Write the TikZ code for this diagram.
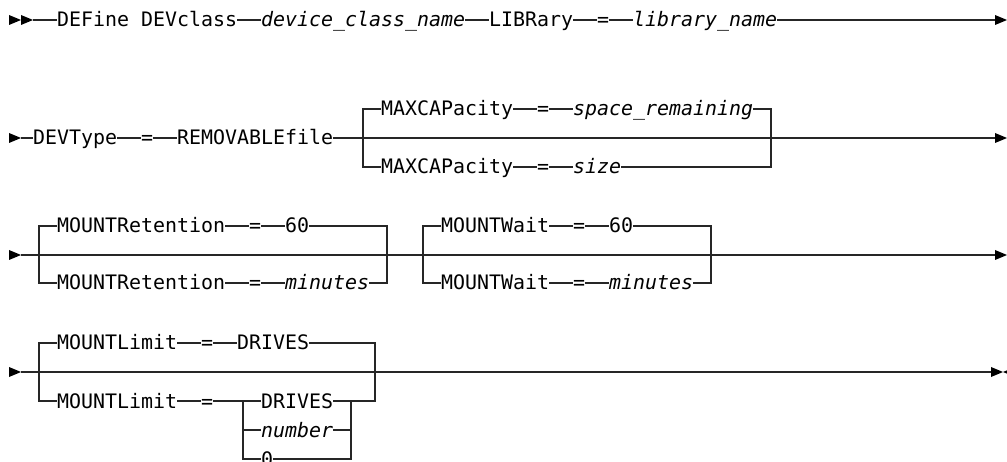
\documentclass[tikz,border=0pt]{standalone}
\usepackage{fontspec}
\newfontfamily\diagfont{DejaVu Sans Mono}
\begin{document}
\begin{tikzpicture}[x=1pt,y=-1pt,
  tok/.style={font=\diagfont\fontsize{19.93}{24}\selectfont, inner sep=0pt, text height=14pt, text depth=0pt, anchor=west},
  var/.style={tok, font=\diagfont\fontsize{19.93}{24}\selectfont\itshape},
  rail/.style={line width=1.2pt, draw=black!85},
  ptr/.pic={\fill[black] (0,-5) -- (12,0) -- (0,5) -- cycle;},
  ptrl/.pic={\fill[black] (12,-5) -- (0,0) -- (12,5) -- cycle;}]
\useasboundingbox (0,0) rectangle (1007,462);
\clip (0,0) rectangle (1007,462);
% ---------- row 1 ----------
\pic at (9,20) {ptr};
\pic at (21,20) {ptr};
\coordinate (r1s) at (33,20);
\node[tok] (r1a) at (57,20) {DEFine DEVclass};
\node[var] (r1b) at (261,20) {device\_class\_name};
\node[tok] (r1c) at (489,20) {LIBRary};
\node[tok] (r1d) at (597,20) {=};
\node[var] (r1e) at (633,20) {library\_name};
\coordinate (r1end) at (996,20);
\draw[rail] (r1s) -- (r1a) -- (r1b) -- (r1c) -- (r1d) -- (r1e) -- (r1end);
\pic at (995,20) {ptr};
% ---------- row 2 ----------
\pic at (9,138) {ptr};
\coordinate (r2s) at (21,138);
\node[tok] (r2a) at (33,138) {DEVType};
\node[tok] (r2b) at (141,138) {=};
\node[tok] (r2c) at (177,138) {REMOVABLEfile};
\coordinate (g1l) at (363,138);
\coordinate (g1r) at (771,138);
\node[tok] (g1a) at (381,109) {MAXCAPacity};
\node[tok] (g1b) at (537,109) {=};
\node[var] (g1c) at (573,109) {space\_remaining};
\node[tok] (g1d) at (381,167) {MAXCAPacity};
\node[tok] (g1e) at (537,167) {=};
\node[var] (g1f) at (573,167) {size};
\coordinate (r2end) at (996,138);
\draw[rail] (r2s) -- (r2a) -- (r2b) -- (r2c) -- (r2end);
\draw[rail] (g1a) -- (g1b) -- (g1c);
\draw[rail] (g1d) -- (g1e) -- (g1f);
\draw[rail] (g1a.west) -- (g1a.west -| g1l) -- (g1d.west -| g1l) -- (g1d.west);
\draw[rail] (g1c.east) -- (g1c.east -| g1r) -- (g1f.east -| g1r) -- (g1f.east);
\pic at (995,138) {ptr};
% ---------- row 3 ----------
\pic at (9,255) {ptr};
\coordinate (r3s) at (21,255);
\coordinate (g2l) at (39,255);
\coordinate (g2r) at (387,255);
\coordinate (g3l) at (423,255);
\coordinate (g3r) at (711,255);
\coordinate (r3end) at (996,255);
\draw[rail] (r3s) -- (r3end);
\node[tok] (g2a) at (57,226) {MOUNTRetention};
\node[tok] (g2b) at (249,226) {=};
\node[tok] (g2c) at (285,226) {60};
\node[tok] (g2d) at (57,283) {MOUNTRetention};
\node[tok] (g2e) at (249,283) {=};
\node[var] (g2f) at (285,283) {minutes};
\draw[rail] (g2a) -- (g2b) -- (g2c);
\draw[rail] (g2d) -- (g2e) -- (g2f);
\draw[rail] (g2a.west) -- (g2a.west -| g2l) -- (g2d.west -| g2l) -- (g2d.west);
\draw[rail] (g2c.east) -- (g2c.east -| g2r) -- (g2f.east -| g2r) -- (g2f.east);
\node[tok] (g3a) at (441,226) {MOUNTWait};
\node[tok] (g3b) at (573,226) {=};
\node[tok] (g3c) at (609,226) {60};
\node[tok] (g3d) at (441,283) {MOUNTWait};
\node[tok] (g3e) at (573,283) {=};
\node[var] (g3f) at (609,283) {minutes};
\draw[rail] (g3a) -- (g3b) -- (g3c);
\draw[rail] (g3d) -- (g3e) -- (g3f);
\draw[rail] (g3a.west) -- (g3a.west -| g3l) -- (g3d.west -| g3l) -- (g3d.west);
\draw[rail] (g3c.east) -- (g3c.east -| g3r) -- (g3f.east -| g3r) -- (g3f.east);
\pic at (995,255) {ptr};
% ---------- row 4 ----------
\pic at (9,372) {ptr};
\coordinate (r4s) at (21,372);
\coordinate (g4l) at (39,372);
\coordinate (g4r) at (375,372);
\coordinate (g5l) at (243,401);
\coordinate (g5r) at (351,401);
\coordinate (r4end) at (992,372);
\draw[rail] (r4s) -- (r4end);
\node[tok] (g4a) at (57,343) {MOUNTLimit};
\node[tok] (g4b) at (201,343) {=};
\node[tok] (g4c) at (237,343) {DRIVES};
\node[tok] (g4d) at (57,401) {MOUNTLimit};
\node[tok] (g4e) at (201,401) {=};
\node[tok] (g5a) at (261,401) {DRIVES};
\node[var] (g5b) at (261,430) {number};
\node[tok] (g5c) at (261,459) {0};
\draw[rail] (g4a) -- (g4b) -- (g4c);
\draw[rail] (g4d) -- (g4e) -- (g5a);
\draw[rail] (g4a.west) -- (g4a.west -| g4l) -- (g4d.west -| g4l) -- (g4d.west);
\draw[rail] (g4c.east) -- (g4c.east -| g4r) -- (g5a.east -| g4r) -- (g5a.east);
\draw[rail] (g5l) -- (g5c.west -| g5l) -- (g5c.west);
\draw[rail] (g5b.west -| g5l) -- (g5b.west);
\draw[rail] (g5r) -- (g5c.east -| g5r) -- (g5c.east);
\draw[rail] (g5b.east) -- (g5b.east -| g5r);
\pic at (991,372) {ptr};
\pic at (1003,372) {ptrl};
\end{tikzpicture}
\end{document}
